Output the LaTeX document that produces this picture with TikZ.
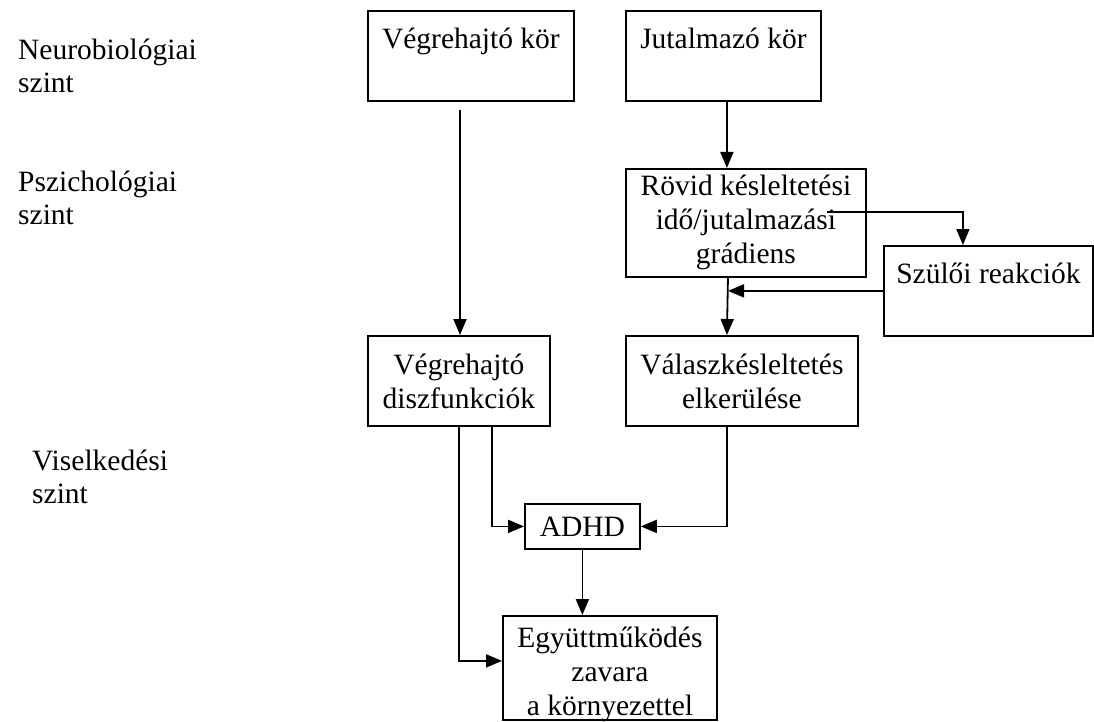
\documentclass[tikz,border=0pt]{standalone}
\usepackage{fontspec}
\setmainfont{Liberation Serif}
\usetikzlibrary{arrows.meta,positioning}
\tikzset{
  box/.style    = {draw, line width=1.8pt, inner sep=0pt, align=center,
                   font=\fontsize{29.5}{34}\selectfont},
  topbox/.style = {box, text height=38pt, text depth=52pt},
  lvl/.style    = {inner sep=0pt, align=left, anchor=north west,
                   font=\fontsize{29.5}{33}\selectfont},
  arr/.style    = {-{Triangle[length=16pt,width=13pt]}, line width=1.8pt},
}

\begin{document}
\begin{tikzpicture}[x=1pt,y=-1pt]
  \useasboundingbox (0,0) rectangle (1094,722);
  % levels
  \node[lvl] (neuro)  at (18,39)  {Neurobiológiai\\szint};
  \node[lvl] (pszich) at (18,171) {Pszichológiai\\szint};
  \node[lvl] (visel)  at (32,450) {Viselkedési\\szint};
  % boxes
  \node[topbox, minimum width=206pt, anchor=north west] (vkor) at (367,10) {Végrehajtó kör};
  \node[topbox, minimum width=195pt, anchor=north west] (jkor) at (625,10) {Jutalmazó kör};
  \node[box, minimum width=240pt, minimum height=108pt, anchor=north west] (rovid) at (625,168)
    {Rövid késleltetési\\idő/jutalmazási\\grádiens};
  \node[topbox, minimum width=209pt, anchor=north west] (szul) at (883,245) {Szülői reakciók};
  \node[box, minimum width=182pt, minimum height=90pt, anchor=north west] (vdisz) at (367,335)
    {Végrehajtó\\diszfunkciók};
  \node[box, minimum width=232pt, minimum height=90pt, anchor=north west] (valasz) at (625,335)
    {Válaszkésleltetés\\elkerülése};
  \node[box, minimum width=115pt, minimum height=45pt, anchor=north west] (adhd) at (524,503) {ADHD};
  \node[box, text height=100pt, text depth=4pt, minimum width=214pt, anchor=north west] (egyutt) at (502,615)
    {Együttműködés\\zavara\\a környezettel};
  % free ends
  \coordinate (vstart) at (460,110);
  \coordinate (rout)   at (827,212);
  \coordinate (rb)     at (728,276);
  % connectors
  \draw[arr] (vstart) -- (vstart |- vdisz.north);
  \draw[arr] ([xshift=3.5pt]jkor.south) -- ([xshift=3.5pt]jkor.south |- rovid.north);
  \draw[arr] (rout) -| ([xshift=-25.5pt]szul.north);
  \draw[arr] (szul.west) -- (szul.west -| rb);
  \draw[arr] (rb) -- ([xshift=-15pt]valasz.north);
  \draw[arr] ([xshift=33pt]vdisz.south) |- (adhd.west);
  \draw[arr] ([xshift=-15pt]valasz.south) |- (adhd.east);
  \draw[arr] (adhd.south) -- (adhd.south |- egyutt.north);
  \draw[arr] (vdisz.south) |- ([yshift=7pt]egyutt.west);
\end{tikzpicture}
\end{document}
